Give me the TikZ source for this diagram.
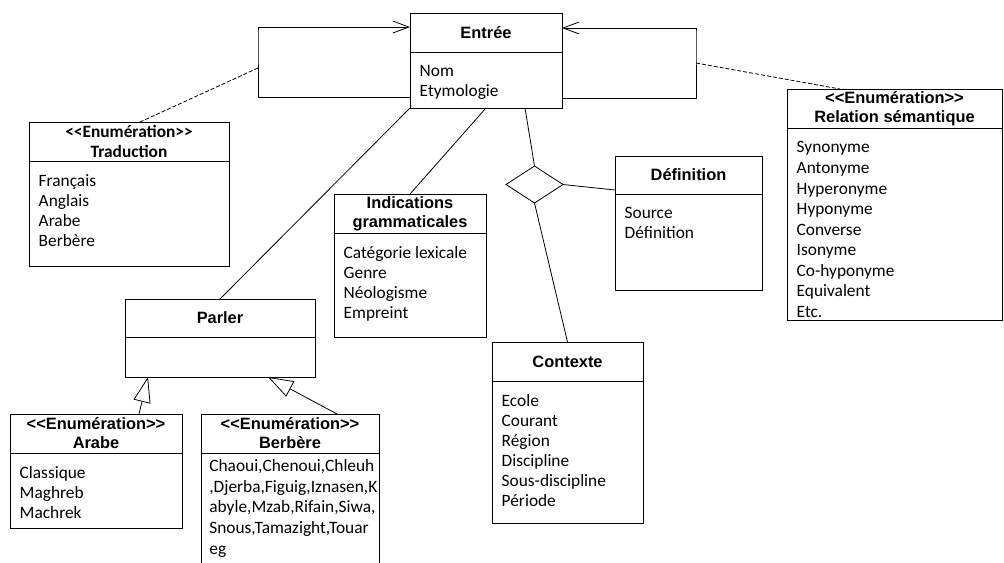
\documentclass[tikz,border=0pt]{standalone}
\usepackage{fontspec}
\setmainfont{Carlito}[Ligatures=TeXOff]
\newfontfamily\arialfont{Liberation Sans}
\usetikzlibrary{positioning,shapes.geometric,arrows.meta}

\begin{document}
\begin{tikzpicture}[x=0.75pt,y=-0.75pt,line width=0.6pt,
    hdr/.style={draw, anchor=north west, inner sep=0pt, outer sep=0pt, align=center,
      minimum height=29.25pt, font=\arialfont\bfseries\fontsize{12.3}{14.2}\selectfont},
    bdy/.style={draw, inner sep=0pt, outer sep=0pt},
    lst/.style={anchor=north west, inner sep=0pt, align=left,
      font=\fontsize{13}{15}\selectfont, execute at begin node=\strut},
    inh/.style={-{Triangle[open,length=19pt,width=13pt]}},
    loop/.style={-{Straight Barb[length=12pt,width=9pt]}},
    dep/.style={dash pattern=on 3pt off 1.5pt}]
    \clip (0,0) rectangle (1004,562);

    % classes
    \node[hdr, minimum width=114pt] (entree) at (410,13) {Entrée};
    \node[bdy, below=0pt of entree, minimum width=114pt, minimum height=42pt] (entree-b) {};
    \node[lst] (entree-l) at ([shift={(7pt,-9.5pt)}]entree-b.north west) {Nom\\Etymologie};

    \node[hdr, minimum width=150pt, font=\bfseries\fontsize{13}{14.5}\selectfont] (trad) at (29,122) {<<Enumération>>\\Traduction};
    \node[bdy, below=0pt of trad, minimum width=150pt, minimum height=78.75pt] (trad-b) {};
    \node[lst] (trad-l) at ([shift={(7pt,-10pt)}]trad-b.north west) {Français\\Anglais\\Arabe\\Berbère};

    \node[hdr, minimum width=161.25pt] (rel) at (787,89) {<<Enumération>>\\Relation sémantique};
    \node[bdy, below=0pt of rel, minimum width=161.25pt, minimum height=144pt] (rel-b) {};
    \node[lst, font=\fontsize{13}{15.4}\selectfont] (rel-l) at ([shift={(7pt,-10pt)}]rel-b.north west)
      {Synonyme\\Antonyme\\Hyperonyme\\Hyponyme\\Converse\\Isonyme\\Co-hyponyme\\Equivalent\\Etc.};

    \node[hdr, minimum width=110.25pt, minimum height=28.5pt] (def) at (615,156) {Définition};
    \node[bdy, below=0pt of def, minimum width=110.25pt, minimum height=72pt] (def-b) {};
    \node[lst] (def-l) at ([shift={(7pt,-10pt)}]def-b.north west) {Source\\Définition};

    \node[hdr, minimum width=114pt] (ind) at (334,194) {Indications\\grammaticales};
    \node[bdy, below=0pt of ind, minimum width=114pt, minimum height=78pt] (ind-b) {};
    \node[lst] (ind-l) at ([shift={(7pt,-10pt)}]ind-b.north west) {Catégorie lexicale\\Genre\\Néologisme\\Empreint};

    \node[hdr, minimum width=113.25pt] (ctx) at (492,342) {Contexte};
    \node[bdy, below=0pt of ctx, minimum width=113.25pt, minimum height=106.5pt] (ctx-b) {};
    \node[lst] (ctx-l) at ([shift={(7pt,-10pt)}]ctx-b.north west)
      {Ecole\\Courant\\Région\\Discipline\\Sous-discipline\\Période};

    \node[hdr, minimum width=142.5pt, minimum height=28.5pt] (parler) at (125,299) {Parler};
    \node[bdy, below=0pt of parler, minimum width=142.5pt, minimum height=30pt] (parler-b) {};

    \node[hdr, minimum width=129pt] (arabe) at (10,414) {<<Enumération>>\\Arabe};
    \node[bdy, below=0pt of arabe, minimum width=129pt, minimum height=56.25pt] (arabe-b) {};
    \node[lst] (arabe-l) at ([shift={(7pt,-10pt)}]arabe-b.north west) {Classique\\Maghreb\\Machrek};

    \node[hdr, minimum width=133.5pt] (berb) at (201,414) {<<Enumération>>\\Berbère};
    \node[bdy, below=0pt of berb, minimum width=133.5pt, minimum height=96pt] (berb-b) {};
    \node[lst, font=\fontsize{13}{15.5}\selectfont] (berb-l) at ([shift={(6pt,-4.5pt)}]berb-b.north west)
      {Chaoui,Chenoui,Chleuh\\,Djerba,Figuig,Iznasen,K\\abyle,Mzab,Rifain,Siwa,\\Snous,Tamazight,Touar\\eg};

    \node[draw, shape=diamond, inner sep=0pt, outer sep=0pt, minimum width=42.75pt, minimum height=27.75pt] (agg) at (534.5,184.5) {};

    % associations
    \draw (entree-b.south west) -- (parler.north);
    \draw (entree-b.south) -- (ind.north);
    \draw ([xshift=29.25pt]entree-b.south) -- (agg.north);
    \draw (agg.south) -- (ctx.north);
    \draw (agg.east) -- ([yshift=-11.25pt]def.west);

    \draw[loop] ([yshift=-12.75pt]entree-b.west) -| ([xshift=-114pt]entree.west) |- ([yshift=4.1pt]entree.west);
    \draw[loop] ([yshift=-13.5pt]entree-b.east) -| ([xshift=100.5pt]entree.east) |- ([yshift=3.4pt]entree.east);
    \coordinate (loopl) at (258,68);
    \coordinate (loopr) at (696,63);
    \draw[dep] (loopl) -- ([xshift=8.25pt]trad.north);
    \draw[dep] (loopr) -- ([xshift=-40.9pt]rel.north);

    % generalisation
    \draw[inh] ([xshift=32.25pt]arabe.north) -- ([xshift=-54pt]parler-b.south);
    \draw[inh] ([xshift=35.25pt]berb.north) -- ([xshift=36pt]parler-b.south);
\end{tikzpicture}
\end{document}
